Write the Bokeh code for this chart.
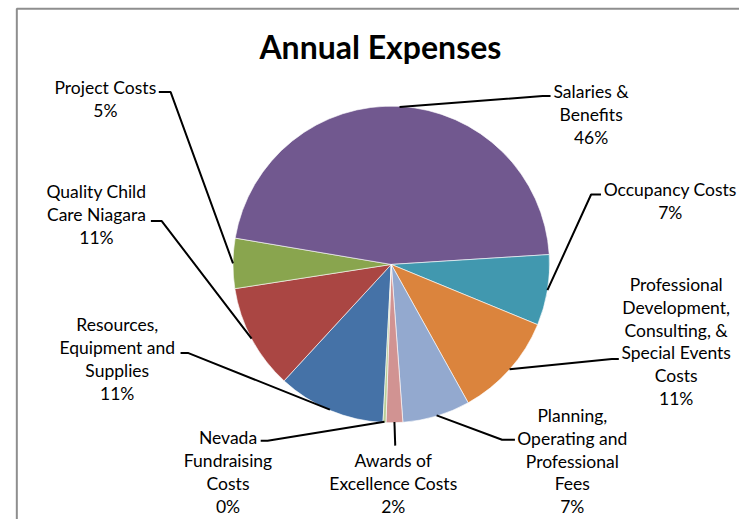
import math
from bokeh.plotting import figure
from bokeh.models import Range1d
from bokeh.core.properties import value
from bokeh.embed import file_html
from bokeh.resources import INLINE

# ---- data (Excel order, clockwise) ----
categories = [
    "Resources,\nEquipment and\nSupplies",
    "Quality Child\nCare Niagara",
    "Project Costs",
    "Salaries &\nBenefits",
    "Occupancy Costs",
    "Professional\nDevelopment,\nConsulting, &\nSpecial Events\nCosts",
    "Planning,\nOperating and\nProfessional\nFees",
    "Awards of\nExcellence Costs",
    "Nevada\nFundraising\nCosts",
]
values = [11.0, 10.7, 5.1, 46.3, 7.2, 10.7, 6.9, 1.7, 0.3]
colors = ["#4572A7", "#AA4643", "#89A54E", "#71588F", "#4198AF",
          "#DB843D", "#93A9CF", "#D19392", "#B9CD96"]
title_text = "Annual Expenses"

# ---- layout (reference-image pixel coordinates) ----
W, H = 739, 519          # figure size in page pixels
RW, RH = 747, 527        # reference coordinate space
CX, CY, R = 395, 268, 160
FIRST_ANGLE = 93.0  # degrees, clockwise from 3 o'clock (screen)
LINE_H = 23.3
FONT = "Lato"
label_pos = [(118, 329), (97, 194), (106, 88), (597, 92.7), (677, 191.7),
             (683, 288), (578, 421), (397, 467), (230, 444)]
leader_tail = [
    [(190, 358), (182, 358)],
    [(163, 224), (152, 224)],
    [(172, 93), (160, 93)],
    [(548, 97), (556, 97)],
    [(597, 197), (607, 197)],
    [(618, 364), (625, 364)],
    [(507, 446), (520, 446)],
    [(399, 452)],
    [(270, 447), (263, 447)],
]


def sy(y):
    return RH - y


p = figure(width=W, height=H, output_backend="svg", toolbar_location=None,
           x_range=Range1d(0, RW), y_range=Range1d(0, RH),
           x_axis_location=None, y_axis_location=None, min_border=0)
p.grid.visible = False
p.outline_line_color = None
p.background_fill_color = "white"
p.border_fill_color = "white"

# chart-area border (top and left edges)
p.line([16.5, 16.5, RW], [sy(RH), sy(8.5), sy(8.5)], line_color="#8E8E8E", line_width=2)

total = sum(values)
starts, ends, mids = [], [], []
a = FIRST_ANGLE
for v in values:
    span = v / total * 360.0
    starts.append(a)
    ends.append(a + span)
    mids.append(a + span / 2)
    a += span

p.wedge(x=[CX] * len(values), y=[sy(CY)] * len(values), radius=R,
        start_angle=[-math.radians(s) for s in starts],
        end_angle=[-math.radians(e) for e in ends],
        direction="clock", fill_color=colors, line_color="white", line_width=0.6)

# leader lines
for m, tail in zip(mids, leader_tail):
    x0 = CX + R * math.cos(math.radians(m))
    y0 = CY + R * math.sin(math.radians(m))
    xs = [x0] + [t[0] for t in tail]
    ys = [sy(y0)] + [sy(t[1]) for t in tail]
    p.line(xs, ys, line_color="black", line_width=2)

# labels
tx, ty, tt = [], [], []
for cat, v, (lx, ly) in zip(categories, values, label_pos):
    lines = cat.split("\n") + [f"{round(v / total * 100)}%"]
    for i, ln in enumerate(lines):
        tx.append(lx)
        ty.append(sy(ly + i * LINE_H))
        tt.append(ln)
p.text(x=tx, y=ty, text=tt, text_align="center", text_baseline="middle",
       text_font=value(FONT), text_font_size="17.5px", text_color="black")

p.text(x=[384], y=[sy(47)], text=[title_text], text_align="center", text_baseline="middle",
       text_font=value(FONT), text_font_size="32px", text_font_style="bold", text_color="black")

open("out.html", "w").write(file_html(p, INLINE))
